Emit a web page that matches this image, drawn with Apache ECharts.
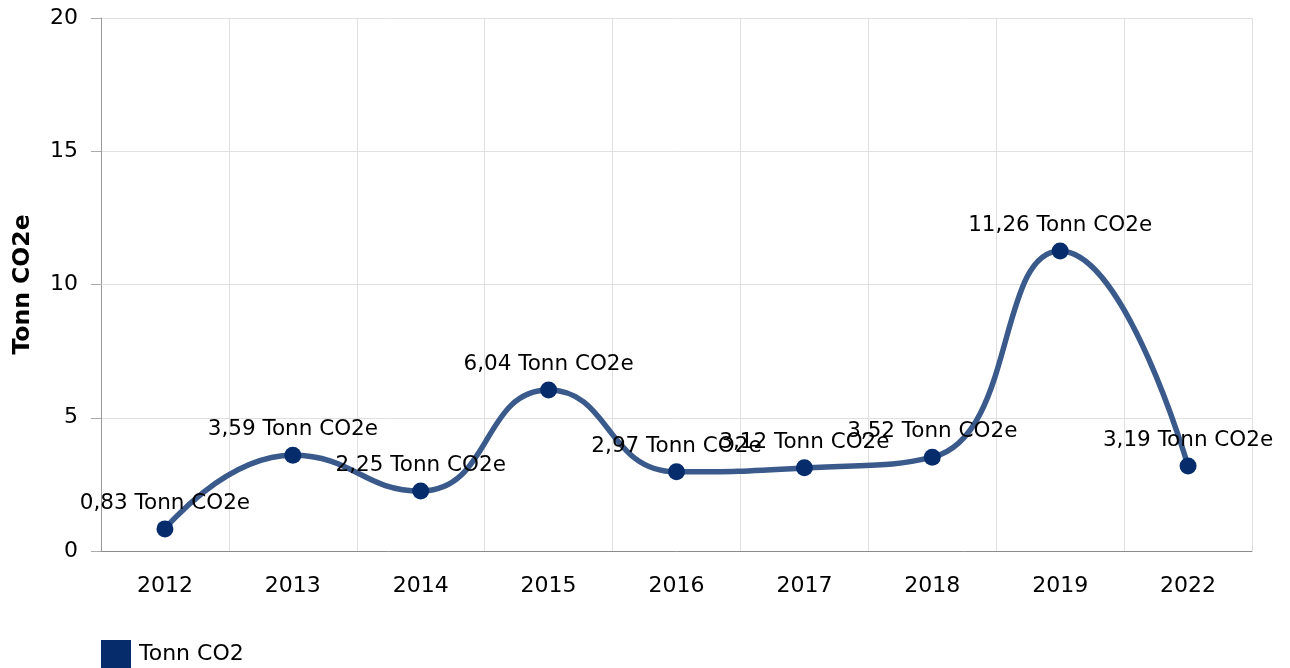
<!DOCTYPE html>
<html>
<head>
<meta charset="utf-8">
<script src="https://cdn.jsdelivr.net/npm/echarts@6/dist/echarts.min.js"></script>
<style>
    html, body { margin: 0; padding: 0; background: #fff; }
    #chart { width: 1290px; height: 668px; }
</style>
</head>
<body>
<div id="chart"></div>
<script>
// data
var years = ["2012", "2013", "2014", "2015", "2016", "2017", "2018", "2019", "2022"];
var tonnCO2 = [0.83, 3.59, 2.25, 6.04, 2.97, 3.12, 3.52, 11.26, 3.19];
var seriesName = "Tonn CO2";
var yName = "Tonn CO2e";

var font = "Verdana, 'DejaVu Sans', sans-serif";

var chart = echarts.init(document.getElementById("chart"));
chart.setOption({
    animation: false,
    backgroundColor: "#ffffff",
    textStyle: { fontFamily: font },
    grid: {
        left: 101,
        right: 38,
        top: 18,
        bottom: 117,
        containLabel: false,
        outerBoundsMode: "none", // keep the plot box where it is
    },
    legend: {
        left: 101,
        top: 640,
        padding: 0,
        icon: "rect",
        itemWidth: 30,
        itemHeight: 28,
        itemGap: 8,
        textStyle: { color: "#000", fontSize: 22, fontFamily: font, padding: [3, 0, 0, 3] },
        data: [seriesName],
    },
    xAxis: {
        type: "category",
        boundaryGap: true,
        data: years,
        axisLine: { lineStyle: { color: "#8c8c8c", width: 1 } },
        axisTick: { alignWithLabel: true, length: 10, lineStyle: { color: "#aaaaaa" } },
        axisLabel: { color: "#000", fontSize: 22, margin: 24, fontFamily: font },
        splitLine: { show: true, lineStyle: { color: "#e0e0e0", width: 1 } },
    },
    yAxis: {
        type: "value",
        min: 0,
        max: 20,
        interval: 5,
        name: yName,
        nameLocation: "middle",
        nameGap: 66,
        nameTextStyle: { color: "#000", fontSize: 23.5, fontWeight: "bold", fontFamily: font },
        axisLine: { show: true, lineStyle: { color: "#999999", width: 1 } },
        axisTick: { show: true, length: 10, lineStyle: { color: "#aaaaaa" } },
        axisLabel: { color: "#000", fontSize: 22, margin: 23, fontFamily: font },
        splitLine: { show: true, lineStyle: { color: "#e0e0e0", width: 1 } },
    },
    series: [
        {
            name: seriesName,
            type: "line",
            data: tonnCO2,
            smooth: 0.5,
            symbol: "circle",
            symbolSize: 17,
            color: "#062c6c",
            lineStyle: { color: "#3a5a8c", width: 5.5 },
            itemStyle: { color: "#062c6c" },
            label: {
                show: true,
                position: "top",
                distance: 6,
                color: "#000",
                fontSize: 21.5,
                fontFamily: font,
                formatter: function (p) {
                    return p.value.toFixed(2).replace(".", ",") + " Tonn CO2e";
                },
            },
        },
    ],
});
</script>
</body>
</html>
